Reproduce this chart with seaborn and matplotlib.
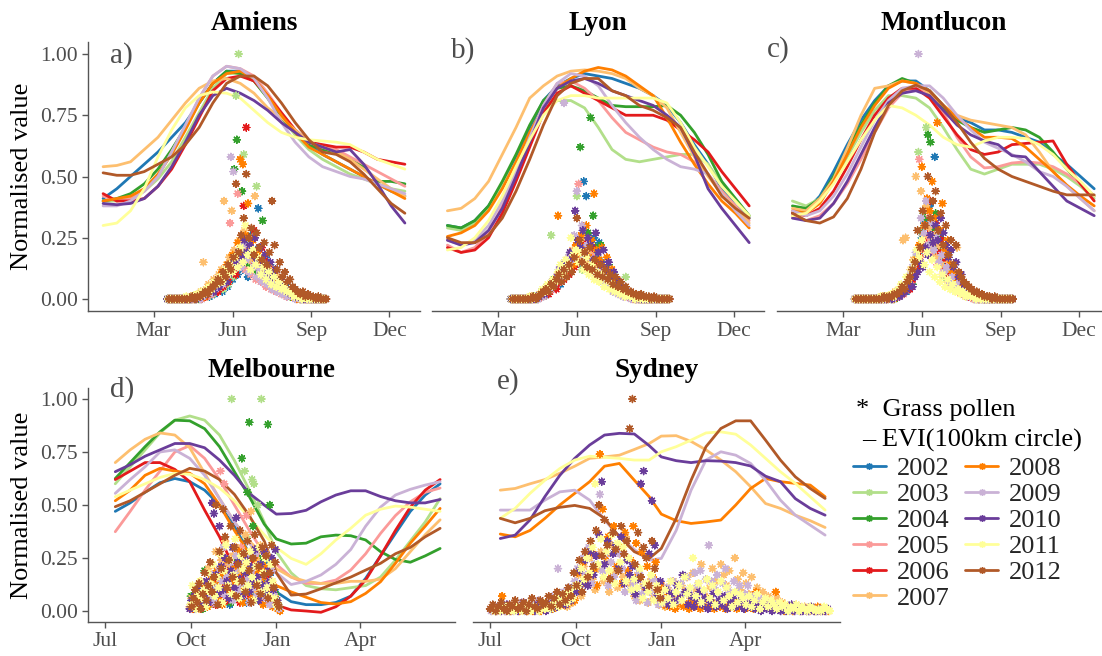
import numpy as np
import pandas as pd
import matplotlib
matplotlib.use("Agg")
import matplotlib.pyplot as plt
from matplotlib.lines import Line2D
import seaborn as sns

# ---------------- data ----------------
YEARS = [2002, 2003, 2004, 2005, 2006, 2007, 2008, 2009, 2010, 2011, 2012]
YEAR_COLORS = ['#1F78B4', '#B2DF8A', '#33A02C', '#FB9A99', '#E31A1C', '#FDBF6F',
               '#FF7F00', '#CAB2D6', '#6A3D9A', '#FFFF99', '#B15928']

# 16-day EVI composite days (day of year; southern season continues into next year)
EVI_DAYS_NORTH = [1, 17, 33, 49, 65, 81, 97, 113, 129, 145, 161, 177, 193, 209, 225,
                  241, 257, 273, 289, 305, 321, 337, 353]
EVI_DAYS_SOUTH = [193, 209, 225, 241, 257, 273, 289, 305, 321, 337, 353, 366, 382, 398,
                  414, 430, 446, 462, 478, 494, 510, 526, 542]

NORTH_TICKS = [60, 152, 244, 335]
NORTH_LABELS = ['Mar', 'Jun', 'Sep', 'Dec']
SOUTH_TICKS = [182, 274, 366, 456]
SOUTH_LABELS = ['Jul', 'Oct', 'Jan', 'Apr']
Y_TICKS = [0.0, 0.25, 0.5, 0.75, 1.0]
Y_LABELS = ['0.00', '0.25', '0.50', '0.75', '1.00']

AMIENS_EVI = {
    2002: [0.41, 0.45, 0.50, 0.55, 0.60, 0.66, 0.72, 0.80, 0.88, 0.93, 0.93, 0.90, 0.83, 0.75, 0.68, 0.63, 0.59, 0.56, 0.53, 0.50, 0.47, 0.44, 0.42],
    2003: [0.40, 0.40, 0.41, 0.44, 0.49, 0.56, 0.66, 0.76, 0.86, 0.92, 0.92, 0.89, 0.82, 0.74, 0.67, 0.61, 0.57, 0.54, 0.51, 0.49, 0.47, 0.45, 0.44],
    2004: [0.40, 0.41, 0.43, 0.47, 0.53, 0.61, 0.70, 0.80, 0.88, 0.93, 0.92, 0.89, 0.82, 0.74, 0.68, 0.63, 0.61, 0.60, 0.57, 0.54, 0.48, 0.48, 0.47],
    2005: [0.42, 0.40, 0.41, 0.44, 0.50, 0.60, 0.70, 0.82, 0.91, 0.95, 0.94, 0.91, 0.84, 0.76, 0.69, 0.64, 0.62, 0.61, 0.58, 0.55, 0.52, 0.49, 0.46],
    2006: [0.43, 0.40, 0.40, 0.41, 0.46, 0.53, 0.63, 0.74, 0.85, 0.90, 0.91, 0.89, 0.83, 0.76, 0.69, 0.64, 0.63, 0.62, 0.62, 0.60, 0.57, 0.56, 0.55],
    2007: [0.54, 0.545, 0.56, 0.61, 0.66, 0.73, 0.80, 0.86, 0.89, 0.90, 0.88, 0.84, 0.78, 0.74, 0.69, 0.64, 0.62, 0.60, 0.57, 0.53, 0.49, 0.45, 0.42],
    2008: [0.40, 0.41, 0.42, 0.45, 0.51, 0.59, 0.69, 0.80, 0.88, 0.92, 0.93, 0.90, 0.83, 0.75, 0.68, 0.62, 0.59, 0.56, 0.53, 0.50, 0.47, 0.44, 0.41],
    2009: [0.38, 0.38, 0.40, 0.44, 0.50, 0.60, 0.71, 0.82, 0.91, 0.95, 0.94, 0.90, 0.82, 0.72, 0.64, 0.58, 0.54, 0.52, 0.50, 0.49, 0.47, 0.45, 0.43],
    2010: [0.39, 0.385, 0.39, 0.41, 0.46, 0.54, 0.64, 0.75, 0.83, 0.86, 0.84, 0.81, 0.77, 0.72, 0.68, 0.64, 0.62, 0.60, 0.61, 0.55, 0.47, 0.38, 0.31],
    2011: [0.30, 0.31, 0.36, 0.45, 0.58, 0.69, 0.78, 0.83, 0.845, 0.84, 0.82, 0.77, 0.72, 0.68, 0.66, 0.65, 0.645, 0.64, 0.63, 0.60, 0.57, 0.55, 0.53],
    2012: [0.515, 0.505, 0.505, 0.52, 0.55, 0.58, 0.63, 0.70, 0.80, 0.88, 0.91, 0.91, 0.87, 0.80, 0.72, 0.65, 0.60, 0.59, 0.56, 0.51, 0.45, 0.39, 0.35],
}
LYON_EVI = {
    2002: [0.30, 0.29, 0.32, 0.38, 0.47, 0.58, 0.70, 0.81, 0.87, 0.90, 0.92, 0.91, 0.90, 0.88, 0.86, 0.83, 0.79, 0.72, 0.63, 0.55, 0.45, 0.38, 0.33],
    2003: [0.29, 0.28, 0.31, 0.37, 0.46, 0.56, 0.67, 0.77, 0.81, 0.81, 0.78, 0.70, 0.61, 0.57, 0.56, 0.57, 0.58, 0.59, 0.59, 0.55, 0.47, 0.40, 0.34],
    2004: [0.30, 0.29, 0.32, 0.38, 0.48, 0.59, 0.71, 0.81, 0.86, 0.87, 0.85, 0.82, 0.79, 0.785, 0.785, 0.785, 0.79, 0.75, 0.68, 0.59, 0.48, 0.41, 0.34],
    2005: [0.22, 0.19, 0.21, 0.27, 0.38, 0.52, 0.66, 0.79, 0.88, 0.89, 0.86, 0.81, 0.74, 0.68, 0.65, 0.62, 0.60, 0.59, 0.56, 0.51, 0.44, 0.38, 0.32],
    2006: [0.21, 0.19, 0.20, 0.25, 0.35, 0.48, 0.62, 0.76, 0.84, 0.87, 0.84, 0.81, 0.78, 0.75, 0.75, 0.75, 0.73, 0.69, 0.65, 0.60, 0.52, 0.45, 0.38],
    2007: [0.36, 0.37, 0.41, 0.48, 0.59, 0.70, 0.82, 0.87, 0.91, 0.93, 0.935, 0.93, 0.92, 0.90, 0.86, 0.83, 0.78, 0.68, 0.58, 0.50, 0.43, 0.37, 0.31],
    2008: [0.255, 0.27, 0.30, 0.36, 0.45, 0.56, 0.68, 0.78, 0.86, 0.90, 0.93, 0.945, 0.935, 0.91, 0.87, 0.83, 0.74, 0.64, 0.55, 0.47, 0.40, 0.35, 0.29],
    2009: [0.24, 0.22, 0.24, 0.30, 0.40, 0.52, 0.66, 0.79, 0.88, 0.92, 0.91, 0.87, 0.79, 0.72, 0.66, 0.61, 0.57, 0.54, 0.53, 0.51, 0.43, 0.36, 0.30],
    2010: [0.24, 0.22, 0.23, 0.28, 0.37, 0.50, 0.64, 0.78, 0.86, 0.89, 0.90, 0.88, 0.85, 0.83, 0.81, 0.79, 0.75, 0.70, 0.59, 0.45, 0.37, 0.30, 0.23],
    2011: [0.20, 0.21, 0.25, 0.32, 0.42, 0.54, 0.65, 0.75, 0.81, 0.83, 0.83, 0.82, 0.82, 0.82, 0.82, 0.82, 0.80, 0.72, 0.62, 0.54, 0.46, 0.40, 0.34],
    2012: [0.25, 0.23, 0.23, 0.26, 0.33, 0.44, 0.57, 0.71, 0.83, 0.88, 0.90, 0.90, 0.85, 0.83, 0.79, 0.77, 0.74, 0.70, 0.60, 0.51, 0.42, 0.37, 0.33],
}
MONTLUCON_EVI = {
    2002: [0.35, 0.36, 0.42, 0.52, 0.63, 0.73, 0.81, 0.87, 0.89, 0.89, 0.85, 0.79, 0.74, 0.72, 0.69, 0.69, 0.68, 0.66, 0.64, 0.59, 0.55, 0.50, 0.45],
    2003: [0.40, 0.38, 0.41, 0.48, 0.58, 0.68, 0.77, 0.83, 0.83, 0.82, 0.78, 0.70, 0.61, 0.53, 0.51, 0.53, 0.55, 0.55, 0.55, 0.53, 0.50, 0.46, 0.41],
    2004: [0.38, 0.37, 0.41, 0.50, 0.61, 0.71, 0.80, 0.87, 0.90, 0.88, 0.84, 0.78, 0.73, 0.70, 0.68, 0.69, 0.70, 0.69, 0.66, 0.60, 0.53, 0.47, 0.42],
    2005: [0.34, 0.32, 0.34, 0.39, 0.47, 0.57, 0.68, 0.78, 0.84, 0.86, 0.84, 0.76, 0.66, 0.58, 0.535, 0.54, 0.555, 0.56, 0.555, 0.54, 0.51, 0.47, 0.42],
    2006: [0.35, 0.34, 0.37, 0.44, 0.54, 0.65, 0.75, 0.82, 0.86, 0.86, 0.82, 0.745, 0.67, 0.61, 0.59, 0.60, 0.63, 0.635, 0.64, 0.645, 0.55, 0.47, 0.40],
    2007: [0.37, 0.36, 0.41, 0.49, 0.615, 0.75, 0.86, 0.87, 0.89, 0.88, 0.84, 0.79, 0.75, 0.73, 0.72, 0.71, 0.70, 0.67, 0.60, 0.52, 0.46, 0.41, 0.36],
    2008: [0.36, 0.35, 0.39, 0.48, 0.59, 0.70, 0.79, 0.86, 0.89, 0.88, 0.85, 0.79, 0.74, 0.70, 0.66, 0.66, 0.655, 0.62, 0.57, 0.52, 0.465, 0.42, 0.38],
    2009: [0.36, 0.34, 0.36, 0.42, 0.51, 0.62, 0.73, 0.81, 0.86, 0.87, 0.87, 0.82, 0.75, 0.69, 0.64, 0.615, 0.59, 0.56, 0.52, 0.50, 0.46, 0.41, 0.36],
    2010: [0.33, 0.32, 0.33, 0.39, 0.48, 0.59, 0.70, 0.80, 0.84, 0.85, 0.83, 0.77, 0.71, 0.67, 0.645, 0.63, 0.585, 0.58, 0.52, 0.46, 0.40, 0.37, 0.34],
    2011: [0.34, 0.35, 0.40, 0.47, 0.56, 0.65, 0.73, 0.79, 0.78, 0.75, 0.71, 0.66, 0.63, 0.62, 0.645, 0.66, 0.66, 0.655, 0.63, 0.59, 0.53, 0.48, 0.42],
    2012: [0.35, 0.32, 0.31, 0.335, 0.41, 0.53, 0.68, 0.79, 0.85, 0.873, 0.85, 0.79, 0.72, 0.64, 0.574, 0.53, 0.50, 0.48, 0.46, 0.44, 0.425, 0.425, 0.425],
}
MELBOURNE_EVI = {
    2002: [0.47, 0.51, 0.56, 0.605, 0.625, 0.61, 0.57, 0.50, 0.40, 0.27, 0.18, 0.09, 0.044, 0.03, 0.03, 0.04, 0.07, 0.154, 0.26, 0.366, 0.47, 0.547, 0.60],
    2003: [0.60, 0.68, 0.76, 0.84, 0.90, 0.92, 0.90, 0.83, 0.71, 0.57, 0.42, 0.28, 0.18, 0.12, 0.105, 0.10, 0.11, 0.12, 0.16, 0.24, 0.33, 0.42, 0.53],
    2004: [0.625, 0.70, 0.775, 0.845, 0.90, 0.897, 0.86, 0.775, 0.657, 0.54, 0.41, 0.34, 0.316, 0.32, 0.35, 0.358, 0.355, 0.335, 0.28, 0.243, 0.23, 0.26, 0.295],
    2005: [0.374, 0.47, 0.57, 0.66, 0.75, 0.78, 0.72, 0.62, 0.50, 0.38, 0.27, 0.22, 0.16, 0.13, 0.13, 0.146, 0.193, 0.27, 0.366, 0.45, 0.515, 0.56, 0.58],
    2006: [0.62, 0.66, 0.70, 0.70, 0.668, 0.61, 0.476, 0.35, 0.20, 0.12, 0.07, 0.028, 0.005, 0.0, -0.006, 0.02, 0.07, 0.146, 0.26, 0.38, 0.49, 0.57, 0.62],
    2007: [0.70, 0.76, 0.81, 0.84, 0.83, 0.77, 0.65, 0.53, 0.42, 0.33, 0.26, 0.20, 0.16, 0.14, 0.13, 0.13, 0.14, 0.14, 0.15, 0.20, 0.28, 0.36, 0.43],
    2008: [0.52, 0.57, 0.64, 0.673, 0.66, 0.65, 0.60, 0.50, 0.38, 0.27, 0.19, 0.12, 0.09, 0.065, 0.04, 0.033, 0.044, 0.083, 0.138, 0.225, 0.32, 0.40, 0.484],
    2009: [0.555, 0.62, 0.68, 0.75, 0.76, 0.72, 0.64, 0.53, 0.42, 0.32, 0.23, 0.18, 0.125, 0.14, 0.17, 0.22, 0.29, 0.40, 0.49, 0.547, 0.574, 0.594, 0.61],
    2010: [0.657, 0.69, 0.73, 0.76, 0.79, 0.79, 0.77, 0.712, 0.64, 0.555, 0.50, 0.457, 0.46, 0.475, 0.515, 0.547, 0.567, 0.567, 0.54, 0.52, 0.51, 0.51, 0.526],
    2011: [0.539, 0.57, 0.60, 0.63, 0.649, 0.645, 0.62, 0.58, 0.52, 0.44, 0.36, 0.30, 0.248, 0.22, 0.27, 0.335, 0.39, 0.452, 0.48, 0.495, 0.49, 0.48, 0.47],
    2012: [0.492, 0.52, 0.56, 0.60, 0.64, 0.673, 0.66, 0.62, 0.55, 0.45, 0.33, 0.18, 0.075, 0.08, 0.105, 0.133, 0.16, 0.193, 0.225, 0.27, 0.30, 0.35, 0.39],
}
SYDNEY_EVI = {
    2007: [0.57, 0.578, 0.60, 0.62, 0.65, 0.683, 0.72, 0.727, 0.735, 0.762, 0.79, 0.825, 0.827, 0.80, 0.76, 0.712, 0.657, 0.586, 0.507, 0.484, 0.452, 0.426, 0.394],
    2008: [0.363, 0.35, 0.38, 0.437, 0.50, 0.555, 0.61, 0.683, 0.696, 0.617, 0.539, 0.457, 0.426, 0.413, 0.42, 0.429, 0.50, 0.578, 0.625, 0.61, 0.602, 0.594, 0.539],
    2009: [0.476, 0.476, 0.476, 0.523, 0.562, 0.57, 0.523, 0.43, 0.35, 0.29, 0.24, 0.248, 0.38, 0.57, 0.712, 0.751, 0.735, 0.696, 0.617, 0.523, 0.452, 0.405, 0.358],
    2010: [0.342, 0.358, 0.43, 0.54, 0.64, 0.72, 0.783, 0.83, 0.838, 0.835, 0.78, 0.727, 0.709, 0.70, 0.709, 0.707, 0.70, 0.684, 0.636, 0.61, 0.53, 0.484, 0.452],
    2011: [0.437, 0.484, 0.555, 0.617, 0.672, 0.712, 0.73, 0.725, 0.72, 0.712, 0.712, 0.751, 0.775, 0.806, 0.84, 0.845, 0.834, 0.783, 0.72, 0.657, 0.602, 0.539, 0.476],
    2012: [0.437, 0.416, 0.437, 0.473, 0.489, 0.498, 0.484, 0.437, 0.35, 0.28, 0.248, 0.295, 0.437, 0.617, 0.775, 0.861, 0.897, 0.897, 0.806, 0.712, 0.633, 0.578, 0.531],
}

# Grass pollen (normalised, given in hundredths): first day of each series and day step
POLLEN_UNIT = 0.01
POLLEN_STEP_NORTH = 3
POLLEN_STEP_MELB = 2
POLLEN_STEP_SYD = 3

AMIENS_POLLEN_START = {2002: 77, 2003: 78, 2004: 76, 2005: 77, 2006: 78, 2007: 76,
                       2008: 77, 2009: 78, 2010: 76, 2011: 77, 2012: 78}
AMIENS_POLLEN = {
    2002: [0,0,0,0,0,0,0,0,0,0,0,0,1, 0,1,2,1,3,2,4, 6,3,9,5,12,8,15,10, 18,12,22,9,26,14,20,37,16, 11,17,8,13,6,9,4,7, 3,5,2,3,1,2, 1,0,1,0,0,0,0,0,0,0,0],
    2003: [0,0,0,0,0,0,0,0,0,0,0,1,0, 1,2,1,3,2,5,3, 7,4,10,6,13,9,83,100, 20,59,14,24,11,18,46,12,15, 8,12,6,9,4,6,3,5, 2,3,1,2,1,1, 0,1,0,0,0,0,0,0,0,0,0],
    2004: [0,0,0,0,0,0,0,0,0,0,1,0,0, 2,1,3,2,4,3,6, 5,9,7,12,10,15,53,65, 17,44,21,13,25,16,19,11,14, 32,9,12,7,10,5,7,3, 4,2,3,1,2,1, 1,0,0,1,0,0,0,0,0,0,0],
    2005: [0,0,0,0,0,0,0,0,0,0,0,0,1, 0,2,1,3,2,4,3, 7,5,10,8,31,11,16,43, 14,21,12,18,10,15,8,13,7, 10,5,8,4,6,3,4,2, 3,1,2,1,1,0, 1,0,0,0,0,0,0,0,0,0,0],
    2006: [0,0,0,0,0,0,0,0,0,0,0,1,0, 1,1,2,2,3,4,3, 6,5,9,7,11,14,10,18, 22,38,70,25,16,28,19,13,21, 11,15,8,12,6,9,4,6, 3,4,2,2,1,1, 0,1,0,0,0,0,0,0,0,0,0],
    2007: [0,0,0,0,0,0,0,0,0,1,0,1,2, 3,15,4,6,5,8,7, 10,12,40,14,17,36,20,15, 24,18,28,21,16,25,42,19,14, 17,11,14,9,12,7,9,5, 6,4,3,2,1,1, 1,0,0,0,0,0,0,0,0,0,0],
    2008: [0,0,0,0,0,0,0,0,0,0,1,0,1, 2,1,3,5,4,7,6, 9,11,8,14,12,18,16,23, 57,55,26,39,20,24,15,18,12, 14,9,11,7,8,5,6,3, 4,2,2,1,1,0, 0,1,0,0,0,0,0,0,0,0,0],
    2009: [0,0,0,0,0,0,0,0,0,0,0,1,0, 1,2,3,2,5,4,7, 9,6,12,10,58,52,15,19, 13,22,16,11,20,14,9,12,7, 10,6,8,4,6,3,4,2, 3,1,2,1,0,1, 0,0,0,0,0,0,0,0,0,0,0],
    2010: [0,0,0,0,0,0,0,0,0,0,1,0,1, 1,2,2,3,4,3,6, 5,8,10,7,13,11,16,14, 20,17,24,19,22,18,25,16,21, 14,18,11,15,9,12,6,8, 5,4,3,2,2,1, 1,1,0,0,1,0,0,0,0,0,0],
    2011: [0,0,0,0,0,0,0,1,0,1,1,2,1, 3,2,4,5,4,7,6, 9,7,12,10,14,11,17,13, 21,15,30,18,12,20,14,17,10, 13,8,11,6,9,5,7,4, 5,3,3,2,1,1, 1,0,1,0,0,0,0,0,0,0,0],
    2012: [0,0,0,0,0,0,0,0,0,1,0,1,1, 2,3,2,4,5,6,8, 7,11,9,14,12,17,47,19, 26,33,51,25,29,18,27,21,16, 23,14,19,40,22,12,15,9, 11,7,8,5,4,3, 2,3,1,2,1,1,0,1,0,0,0],
}
LYON_POLLEN_START = {2002: 76, 2003: 77, 2004: 75, 2005: 76, 2006: 77, 2007: 75,
                     2008: 76, 2009: 77, 2010: 75, 2011: 76, 2012: 77}
LYON_POLLEN = {
    2002: [0,0,0,0,0,0,0,0,0,1,0, 1,2,3,2,4,5,7, 9,6,12,10,15,13,18,16, 20,14,48,42,22,17,25,19, 23,15,12,9,11,6,8,4, 5,3,2,2,1,1, 0,1,0,0,0,0,0,0,0,0,0,0,0,0],
    2003: [0,0,0,0,0,0,0,0,1,0,1, 2,1,3,4,26,5,7, 8,10,9,13,11,15,14,42, 17,12,20,15,11,18,13,9, 12,7,10,5,8,4,6,3, 4,2,9,1,1,0, 1,0,0,0,0,0,0,0,0,0,0,0,0,0],
    2004: [0,0,0,0,0,0,0,0,0,1,0, 1,3,2,5,4,6,8, 7,11,9,14,12,17,15,20, 18,62,23,19,27,74,34,21, 16,22,13,10,14,8,10,5, 6,4,3,2,2,1, 1,0,1,0,0,0,0,0,0,0,0,0,0,0],
    2005: [0,0,0,0,0,0,0,0,0,0,1, 1,2,2,4,3,6,5, 8,7,11,10,14,12,19,16, 47,21,17,24,14,18,11,15, 9,12,7,9,5,6,3,4, 2,3,1,1,1,0, 0,0,0,0,0,0,0,0,0,0,0,0,0,0],
    2006: [0,0,0,0,0,0,0,0,0,1,0, 1,1,3,2,4,5,4, 7,9,8,12,10,14,13,17, 15,20,23,18,16,21,14,12, 15,10,12,7,9,5,6,3, 4,2,2,1,1,1, 0,0,0,0,0,0,0,0,0,0,0,0,0,0],
    2007: [0,0,0,0,0,0,0,0,1,0,1, 2,3,2,5,4,7,6, 10,8,13,11,16,14,20,17, 22,18,25,15,19,12,16,10, 13,8,11,7,9,12,6,4, 5,3,2,2,1,1, 1,0,0,0,0,0,0,0,0,0,0,0,0,0],
    2008: [0,0,0,0,0,0,0,0,0,0,1, 1,2,3,4,6,5,8, 34,10,13,9,15,18,14,22, 19,26,21,30,17,24,43,20, 16,21,13,17,10,12,7,8, 5,4,3,2,1,1, 0,1,0,0,0,0,0,0,0,0,0,0,0,0],
    2009: [0,0,0,0,0,0,0,0,0,1,0, 2,1,3,5,4,7,9, 12,8,80,14,18,16,26,44, 20,30,17,22,13,16,11,9, 12,7,9,5,6,3,4,2, 3,1,1,1,0,1, 0,0,0,0,0,0,0,0,0,0,0,0,0,0],
    2010: [0,0,0,0,0,0,0,0,0,0,1, 1,2,2,4,5,7,6, 9,12,10,15,13,19,17,36, 24,21,28,18,25,22,16,27, 19,14,20,12,15,9,11,6, 7,5,4,3,2,1, 1,1,0,0,0,0,0,0,0,0,0,0,0,0],
    2011: [0,0,0,0,0,0,0,1,0,1,1, 2,4,3,6,5,8,7, 11,14,10,16,13,25,18,20, 15,19,12,17,10,14,8,11, 7,10,5,8,4,6,3,4, 2,3,1,2,1,1, 0,1,0,0,0,0,0,0,0,0,0,0,0,0],
    2012: [0,0,0,0,0,0,0,0,1,0,1, 2,3,4,3,6,5,8, 10,7,12,9,14,11,17,33, 24,15,19,13,21,12,16,10, 14,9,12,8,10,6,9,5, 7,4,5,3,3,2, 2,1,2,1,1,1,0,1,0,0,0,0,0,0],
}
MONTLUCON_POLLEN_START = {2002: 74, 2003: 73, 2004: 75, 2005: 74, 2006: 75, 2007: 73,
                          2008: 74, 2009: 73, 2010: 75, 2011: 74, 2012: 75}
MONTLUCON_POLLEN = {
    2002: [0,0,0,0,0,0,0,0,0,0,0,0,0,1,0,1, 1,2,3,4,3,6,8, 10,14,19,25,31,22,38,27, 58,20,26,15,19,10,13, 7,9,5,6,3,4,2, 2,1,1,0,1,0,0,0,0,0,0,0,0,0,0,0,0],
    2003: [0,0,0,0,0,0,0,0,0,0,0,0,1,0,0,1, 2,1,3,5,4,7,9, 12,17,60,28,35,70,24,30, 18,22,14,17,9,12,6, 8,4,5,3,3,2,1, 1,1,0,0,0,0,0,0,0,0,0,0,0,0,0,0,0],
    2004: [0,0,0,0,0,0,0,0,0,0,0,0,0,1,0,0, 1,2,2,4,5,7,6, 11,15,20,27,33,67,64,29, 35,21,25,16,13,9,11, 6,7,4,4,2,2,1, 1,0,1,0,0,0,0,0,0,0,0,0,0,0,0,0,0],
    2005: [0,0,0,0,0,0,0,0,0,0,0,0,0,0,1,0, 1,1,3,2,5,4,7, 9,13,57,21,30,25,34,19, 23,14,18,10,12,7,8, 5,5,3,3,2,1,1, 1,0,0,0,0,0,0,0,0,0,0,0,0,0,0,0,0],
    2006: [0,0,0,0,0,0,0,0,0,0,0,0,0,1,0,1, 1,2,2,3,5,4,8, 10,13,17,24,20,29,40,26, 31,19,24,13,16,9,10, 6,7,4,4,2,2,1, 1,1,0,0,0,0,0,0,0,0,0,0,0,0,0,0,0],
    2007: [0,0,0,0,0,0,0,0,0,0,0,1,0,1,1,2, 3,2,5,24,25,8,12, 16,50,20,44,26,38,29,21, 26,17,22,14,18,12,15, 9,11,21,7,6,4,3, 3,2,2,1,1,1,0,1,0,0,0,0,0,0,0,0,0],
    2008: [0,0,0,0,0,0,0,0,0,0,0,0,1,0,1,0, 1,2,3,3,5,6,9, 12,16,22,54,30,41,36,48, 33,72,28,39,20,24,14, 11,8,9,5,4,3,2, 2,1,1,0,1,0,0,0,0,0,0,0,0,0,0,0,0],
    2009: [0,0,0,0,0,0,0,0,0,0,0,0,0,0,1,0, 1,2,2,4,6,5,10, 14,19,100,33,27,40,22,31, 20,25,15,18,11,13,7, 9,5,6,3,3,2,1, 1,1,0,0,0,0,0,0,0,0,0,0,0,0,0,0,0],
    2010: [0,0,0,0,0,0,0,0,0,0,0,0,0,1,0,1, 1,1,2,3,4,6,5, 9,11,15,13,21,18,26,23, 30,24,33,27,22,17,20, 13,15,9,10,6,5,3, 3,2,1,1,1,0,1,0,0,0,0,0,0,0,0,0,0],
    2011: [0,0,0,0,0,0,0,0,0,0,1,0,1,1,2,1, 3,4,6,5,9,8,12, 15,20,17,24,14,19,11,16, 9,13,7,10,5,8,4, 6,3,4,2,3,1,2, 1,1,0,1,0,0,0,0,0,0,0,0,0,0,0,0,0],
    2012: [0,0,0,0,0,0,0,0,0,0,0,1,0,1,1,2, 2,3,5,4,7,9,12, 15,28,21,36,30,50,33,40, 44,28,35,22,30,18,24, 14,22,11,9,7,6,5, 4,3,3,2,2,1,1,1,0,1,0,0,0,0,0,0,0],
}
MELBOURNE_POLLEN_START = {2002: 274, 2003: 274, 2004: 275, 2005: 274, 2006: 275, 2007: 273,
                          2008: 276, 2009: 275, 2010: 273, 2011: 274, 2012: 275}
MELBOURNE_POLLEN = {
    2002: [2,5,1,8,3,6,10,4,12,7,3,15,9,5,18,11,6,14,20,8,13,3,17,22,10,6,25,14,9,19,4,12,24,16,8,21,11,5,15,9,23,13,7,18,4,10,2,1],
    2003: [7,3,6,1,9,4,2,11,5,8,3,13,6,10,4,15,8,12,5,17,9,14,100,7,18,11,20,28,13,66,35,16,9,62,60,22,50,12,100,19,8,25,14,6,11,3,5,1],
    2004: [7,2,5,8,3,6,1,19,4,9,12,5,14,7,10,16,6,13,20,9,15,4,18,11,23,8,14,72,17,10,56,89,21,40,12,26,9,16,24,7,13,88,50,11,5,8,3,2],
    2005: [1,4,2,6,3,8,5,2,10,4,12,7,15,9,5,18,66,11,60,22,14,8,19,26,13,7,21,30,16,10,45,24,12,6,18,27,9,15,5,20,11,8,14,4,9,3,2,1],
    2006: [3,1,5,2,7,4,9,2,11,6,4,13,8,3,15,10,6,18,12,5,20,9,14,7,22,11,4,16,25,8,13,19,6,23,10,15,5,21,12,7,17,9,4,13,6,3,2,1],
    2007: [2,6,3,10,5,1,14,8,4,12,20,7,16,11,28,5,18,24,9,33,14,22,6,26,17,30,11,19,8,25,36,13,21,47,29,10,24,15,31,7,18,27,12,20,9,5,3,1],
    2008: [1,3,6,2,8,4,11,6,2,9,15,5,12,19,7,14,3,17,10,24,6,13,20,8,16,28,11,4,18,22,9,14,6,25,12,19,8,15,3,21,10,6,13,2,7,3,1,0],
    2009: [2,4,1,7,3,10,5,2,9,13,6,17,4,11,8,20,14,30,7,16,12,23,5,18,26,10,21,13,8,25,15,4,19,11,27,7,14,22,9,17,6,12,3,19,8,4,2,1],
    2010: [1,5,2,8,4,11,3,9,6,14,4,12,51,46,17,8,40,21,10,25,14,6,19,30,11,44,23,15,7,27,18,24,9,21,13,29,16,5,22,12,28,8,19,14,25,10,29,5],
    2011: [3,12,5,1,8,14,6,10,2,18,9,13,22,7,16,11,27,4,19,31,12,24,8,17,34,14,6,26,20,10,23,12,28,16,5,21,13,30,9,18,25,11,7,22,14,6,3,2],
    2012: [2,6,10,4,13,1,8,18,5,12,23,9,16,50,3,28,20,48,35,11,24,40,16,30,7,22,38,14,27,9,33,19,4,25,36,12,21,8,30,17,26,6,18,31,11,23,4,2],
}
SYDNEY_POLLEN_START = {2007: 184, 2008: 186, 2009: 183, 2010: 185, 2011: 187, 2012: 182}
SYDNEY_POLLEN = {
    2007: [0,1,0,0,2,0,1,0,3,1,0,2,1,0,4,1,2,0,3,1, 2,5,1,4,7,3,6,2,9,4, 11,17,7,21,13,25,15,10,20,28, 14,23,9,31,18,11,27,16,35,13,
           14,7,17,5,12,9,4,15,6,10,3, 8,2,11,5,14,7,3,12,9,16, 6,18,10,13,22,8,15,11,20,14, 9,22,17,12,19,7,25,15,10,18,
           13,8,16,6,11,4,9,3,7,5, 2,6,1,4,3,1,2,0,3,1, 0,2,1,0,1,0,0,1,0,0],
    2008: [2,0,1,7,0,1,0,2,1,0,3,1,0,2,0,4,1,0,2,1, 3,1,5,2,6,3,8,4,10,5, 18,10,23,13,17,28,20,12,74,48, 26,35,16,40,21,30,13,37,19,24,
           40,32,17,28,11,21,9,16,23,7,12, 3,7,2,5,1,4,6,2,3,1, 5,2,4,1,3,6,2,4,1,3, 2,5,1,3,2,4,1,2,3,1,
           2,4,1,9,3,2,5,1,3,2, 9,1,3,0,2,1,0,1,2,0, 1,0,0,1,0,2,0,1,0,0],
    2009: [0,1,0,2,1,0,3,1,0,2,1,4,0,2,1,3,0,5,2,1, 4,2,7,3,20,5,9,4,11,6, 14,20,10,25,17,30,13,22,26,55, 19,27,12,23,16,30,27,20,9,24,
           10,13,5,18,8,12,4,9,15,6,3, 7,4,11,6,14,9,5,13,8,16, 10,7,18,12,19,9,15,31,14,11, 17,8,13,20,10,6,14,9,12,5,
           8,12,4,7,3,6,2,5,1,4, 2,3,1,0,2,1,0,1,0,2, 0,1,0,0,1,0,0,0,1,0],
    2010: [1,0,2,0,1,3,0,1,2,0,1,4,0,2,1,0,3,1,2,0, 3,1,5,2,4,7,3,9,5,11, 9,19,13,24,12,28,17,26,36,61, 22,33,15,27,31,20,35,13,24,17,
           21,8,15,60,66,11,27,52,31,7,14, 5,10,3,8,4,12,6,17,9,3, 7,2,5,9,3,6,1,4,8,2, 5,3,7,1,4,6,2,3,5,1,
           3,2,4,1,2,0,3,1,2,0, 1,2,0,1,0,1,3,0,1,0, 0,1,0,2,0,0,1,0,0,1],
    2011: [0,1,0,1,2,0,1,0,2,1,0,3,1,0,2,1,0,4,1,2, 1,3,6,2,5,8,4,10,6,12, 12,20,15,25,18,30,60,22,34,16, 28,19,36,13,32,23,30,14,25,10,
           15,11,20,6,13,9,17,5,12,8,4, 10,6,14,3,9,12,5,16,8,11, 25,7,13,4,10,15,6,12,3,9, 14,5,11,7,2,9,4,8,6,3,
           7,2,5,8,1,4,6,2,5,3, 1,4,2,3,0,2,1,3,0,2, 1,0,2,1,0,1,0,2,1,0],
    2012: [1,3,0,2,4,1,0,3,2,5,1,2,4,0,3,6,2,1,5,3, 4,7,2,6,9,3,8,5,11,7, 18,12,24,9,28,16,33,21,38,50, 26,43,31,15,37,29,19,40,27,33,
           86,100,22,37,16,30,25,12,33,20,10,6],
}

SITE_NAMES = ['Amiens', 'Lyon', 'Montlucon', 'Melbourne', 'Sydney']
PANEL_TAGS = ['a)', 'b)', 'c)', 'd)', 'e)']


# ---------------- helpers ----------------
def evi_frame(evi, days):
    rows = []
    for yr, vals in evi.items():
        for d, v in zip(days, vals):
            rows.append((str(yr), d, v))
    return pd.DataFrame(rows, columns=['year', 'day', 'value'])


def pollen_frame(pollen, starts, step):
    rows = []
    for yr in YEARS:
        if yr not in pollen:
            continue
        for i, v in enumerate(pollen[yr]):
            rows.append((str(yr), starts[yr] + step * i, v * POLLEN_UNIT))
    return pd.DataFrame(rows, columns=['year', 'day', 'value'])


sns.set_theme(style='white')
plt.rcParams['font.family'] = ['Liberation Serif', 'DejaVu Serif']

W, H = 1102, 656
fig = plt.figure(figsize=(W / 100, H / 100), dpi=100)
pal = {str(y): c for y, c in zip(YEARS, YEAR_COLORS)}

AX_COL = '#555555'
TXT_COL = '#4D4D4D'


def px_axes(left, top, right, bottom):
    return fig.add_axes([left / W, 1 - bottom / H, (right - left) / W, (bottom - top) / H])


def draw(ax, evi_df, pol_df, xlim, ticks, labels, show_y):
    hue_levels = [y for y in pal if y in set(evi_df['year'])]
    sns.lineplot(data=evi_df, x='day', y='value', hue='year', hue_order=hue_levels,
                 palette=pal, estimator=None, sort=True, linewidth=2.0,
                 legend=False, ax=ax)
    sns.scatterplot(data=pol_df, x='day', y='value', hue='year', hue_order=hue_levels,
                    palette=pal, marker=(8, 2, 0), s=26, linewidth=1.0,
                    legend=False, ax=ax, zorder=3)
    ax.set_xlim(*xlim)
    ax.set_ylim(-0.05, 1.05)
    ax.set_xticks(ticks)
    ax.set_xticklabels(labels)
    ax.set_xlabel('')
    ax.set_ylabel('')
    for s in ['top', 'right']:
        ax.spines[s].set_visible(False)
    ax.spines['bottom'].set_color(AX_COL)
    ax.spines['bottom'].set_linewidth(1.0)
    if show_y:
        ax.set_yticks(Y_TICKS)
        ax.set_yticklabels(Y_LABELS)
        ax.spines['left'].set_color(AX_COL)
        ax.spines['left'].set_linewidth(1.0)
    else:
        ax.set_yticks([])
        ax.spines['left'].set_visible(False)
    ax.tick_params(axis='both', which='both', length=4.5, width=1.0, color=AX_COL,
                   labelcolor=TXT_COL, labelsize=15.5, pad=3, direction='out',
                   bottom=True, left=show_y)
    ax.set_facecolor('white')


north_xlim = (-16.6, 370.6)
south_xlim = (163.7, 558.0)

north = [
    (AMIENS_EVI, AMIENS_POLLEN, AMIENS_POLLEN_START, 88.0),
    (LYON_EVI, LYON_POLLEN, LYON_POLLEN_START, 432.3),
    (MONTLUCON_EVI, MONTLUCON_POLLEN, MONTLUCON_POLLEN_START, 777.3),
]
for i, (evi, pol, st, left) in enumerate(north):
    ax = px_axes(left, 41.75, left + 332.0, 311.25)
    draw(ax, evi_frame(evi, EVI_DAYS_NORTH), pollen_frame(pol, st, POLLEN_STEP_NORTH),
         north_xlim, NORTH_TICKS, NORTH_LABELS, i == 0)
    fig.text((left + 166) / W, 1 - 30 / H, SITE_NAMES[i], ha='center', va='baseline',
             fontsize=19.5, fontweight='bold', color='black')

south = [
    (MELBOURNE_EVI, MELBOURNE_POLLEN, MELBOURNE_POLLEN_START, POLLEN_STEP_MELB, 88.0),
    (SYDNEY_EVI, SYDNEY_POLLEN, SYDNEY_POLLEN_START, POLLEN_STEP_SYD, 473.0),
]
for j, (evi, pol, st, step, left) in enumerate(south):
    ax = px_axes(left, 388.4, left + 367.0, 621.6)
    draw(ax, evi_frame(evi, EVI_DAYS_SOUTH), pollen_frame(pol, st, step),
         south_xlim, SOUTH_TICKS, SOUTH_LABELS, j == 0)
    fig.text((left + 183.5) / W, 1 - 377 / H, SITE_NAMES[3 + j], ha='center', va='baseline',
             fontsize=19.5, fontweight='bold', color='black')

# y-axis labels
for yc in [176.5, 505.0]:
    fig.text(22 / W, 1 - yc / H, 'Normalised value', rotation=90, ha='center', va='center',
             fontsize=19, color='black')

# panel tags
tag_pos = [(110, 56), (451, 51), (767, 50), (110, 390), (497, 382)]
for tag, (x, y) in zip(PANEL_TAGS, tag_pos):
    fig.text(x / W, 1 - y / H, tag, ha='left', va='center', fontsize=21, color=TXT_COL)

# legend
fig.text(856 / W, 1 - 416 / H, '*  Grass pollen', ha='left', va='baseline', fontsize=19,
         color='black')
fig.text(862 / W, 1 - 447 / H, '\u2013 EVI(100km circle)', ha='left', va='baseline',
         fontsize=19, color='black')
handles = [Line2D([0], [0], color=c, lw=2.0, marker=(8, 2, 0), markersize=5,
                  markeredgewidth=1.0) for c in YEAR_COLORS]
fig.legend(handles, [str(y) for y in YEARS], ncol=2, loc='upper left',
           bbox_to_anchor=(853 / W, 1 - 457 / H), frameon=False, fontsize=19,
           handlelength=1.25, handletextpad=0.4, columnspacing=0.6,
           labelspacing=0.09, borderpad=0, borderaxespad=0, numpoints=1)

fig.savefig('out.png', dpi=100, facecolor='white')
